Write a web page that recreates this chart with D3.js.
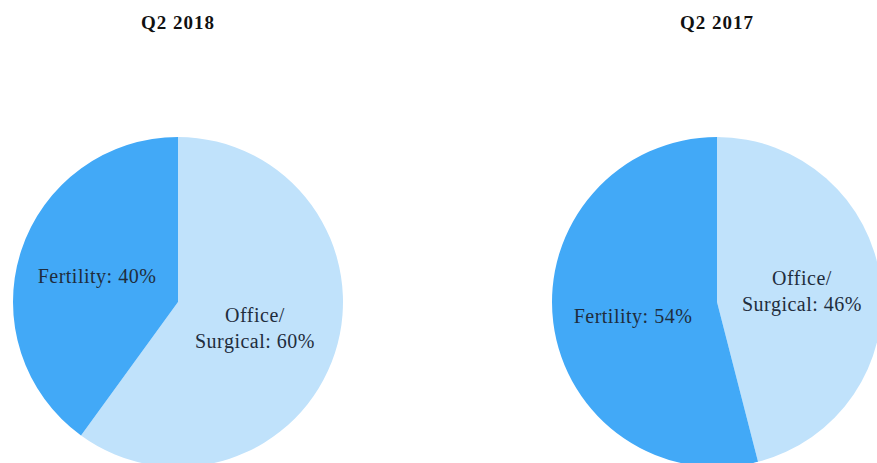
<!DOCTYPE html>
<html><head><meta charset="utf-8">
<script src="https://cdn.jsdelivr.net/npm/d3@7"></script>
<style>body{margin:0;background:#fff}svg{display:block}</style>
</head><body>
<svg id="c" width="877" height="463"></svg>
<script>
const titles = ["Q2 2018", "Q2 2017"];
const categories = ["Office/Surgical", "Fertility"];
const q2_2018 = [60, 40];
const q2_2017 = [46, 54];
const colors = ["#C0E2FB", "#42A9F7"];

const svg = d3.select("#c");
const radius = 165;
const centers = [[178, 302], [717, 302]];
const datasets = [q2_2018, q2_2017];
const labelPos = [
  [[255, 322], [97, 283]],
  [[802, 285], [633, 323]]
];

const pie = d3.pie().sort(null).value(d => d.v);
const arc = d3.arc().innerRadius(0).outerRadius(radius);

datasets.forEach((vals, i) => {
  const g = svg.append("g").attr("transform", `translate(${centers[i][0]},${centers[i][1]})`);
  const data = pie(categories.map((c, j) => ({c, v: vals[j], j})));
  g.selectAll("path").data(data).join("path")
    .attr("d", arc)
    .attr("fill", d => colors[d.data.j]);

  svg.append("text")
    .attr("x", centers[i][0]).attr("y", 29)
    .attr("text-anchor", "middle")
    .attr("font-family", "Liberation Serif, Times New Roman, serif")
    .attr("font-weight", "bold").attr("font-size", 19)
    .attr("letter-spacing", 1)
    .attr("fill", "#111")
    .text(titles[i]);

  data.forEach(d => {
    const j = d.data.j;
    const [lx, ly] = labelPos[i][j];
    const t = svg.append("text")
      .attr("text-anchor", "middle")
      .attr("font-family", "Liberation Serif, Times New Roman, serif")
      .attr("font-size", 20)
      .attr("letter-spacing", 0.5)
      .attr("fill", "#1f2d3d");
    if (j === 0) {
      t.append("tspan").attr("x", lx).attr("y", ly).text("Office/");
      t.append("tspan").attr("x", lx).attr("y", ly + 26).text("Surgical: " + vals[j] + "%");
    } else {
      t.append("tspan").attr("x", lx).attr("y", ly).text("Fertility: " + vals[j] + "%");
    }
  });
});
</script>
</body></html>
